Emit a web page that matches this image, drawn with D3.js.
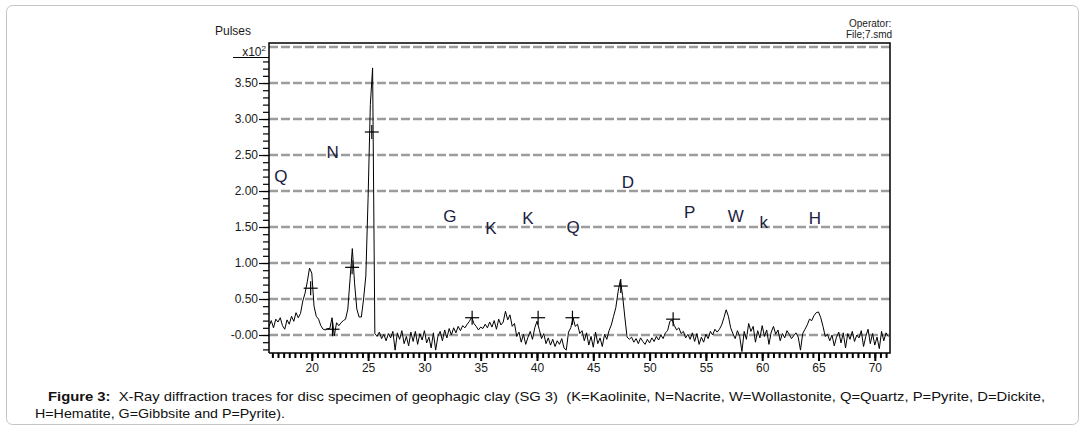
<!DOCTYPE html>
<html>
<head>
<meta charset="utf-8">
<script src="https://cdnjs.cloudflare.com/ajax/libs/d3/7.8.5/d3.min.js"></script>
<style>
	body { margin: 0; background: #fff; }
	svg text { font-family: "Liberation Sans", Arial, sans-serif; }
</style>
</head>
<body>
<div id="chart"></div>
<script>
// XRD scan, stored like the .smd file: start angle, step, pulses (x10^2)
var scanStart = 16.2;
var scanStep = 0.2;
var pulses = [
	0.12, 0.20, 0.10, 0.22,
	0.18, 0.24, 0.13, 0.08, 0.21,
	0.15, 0.26, 0.19, 0.31, 0.24,
	0.30, 0.47, 0.58, 0.74, 0.93,
	0.86, 0.40, 0.26, 0.22, 0.13,
	0.08, 0.07, 0.09, 0.09, 0.24,
	-0.01, 0.17, 0.13, 0.17, 0.20,
	0.22, 0.36, 0.78, 1.20, 0.72,
	0.36, 0.25, 0.25, 0.50, 0.82,
	1.90, 3.20, 3.71, 0.02, -0.02,
	0.04, -0.05, 0.01, -0.08, 0.02,
	-0.04, 0.05, -0.21, 0.03, -0.06,
	0.06, -0.12, -0.02, -0.15, 0.04,
	-0.09, 0.05, -0.13, 0.02, -0.07,
	0.06, -0.11, -0.03, -0.18, 0.03,
	-0.21, -0.02, 0.05, -0.08, 0.07,
	-0.04, 0.09, 0.00, 0.10, 0.03,
	0.12, 0.06, 0.13, 0.10, 0.15,
	0.19, 0.25, 0.16, 0.12, 0.07,
	0.11, 0.09, 0.15, 0.10, 0.18,
	0.11, 0.20, 0.08, 0.22, 0.14,
	0.18, 0.33, 0.21, 0.28, 0.12,
	0.16, -0.02, 0.04, -0.10, 0.01,
	-0.13, -0.03, 0.05, -0.06, 0.10,
	0.19, 0.08, -0.05, 0.02, -0.12,
	-0.04, -0.14, -0.06, -0.16, -0.08,
	-0.13, -0.05, -0.18, -0.21, 0.04,
	0.10, 0.24, 0.12, 0.15, 0.02,
	0.06, -0.08, 0.03, -0.14, -0.02,
	-0.17, 0.04, -0.12, -0.04, -0.16,
	0.01, -0.06, 0.06, 0.14, 0.26,
	0.38, 0.60, 0.76, 0.55, 0.25,
	-0.03, -0.06, -0.03, -0.10, -0.05,
	-0.12, -0.04, -0.09, -0.13, -0.06,
	-0.11, -0.04, -0.09, -0.02, -0.07,
	0.00, -0.05, 0.03, 0.06, 0.19,
	0.21, 0.13, 0.07, 0.10, 0.02,
	0.05, -0.04, 0.01, -0.06, 0.03,
	-0.09, 0.02, -0.13, -0.03, -0.10,
	0.01, -0.05, 0.05, 0.00, 0.08,
	0.04, 0.08, 0.14, 0.24, 0.35,
	0.26, 0.10, 0.02, -0.05, 0.06,
	-0.02, -0.23, 0.05, -0.06, 0.16,
	0.05, 0.12, -0.10, 0.06, -0.04,
	0.13, -0.02, 0.07, -0.13, 0.04,
	0.12, 0.01, 0.07, -0.08, 0.02,
	-0.04, 0.06, 0.01, -0.05, -0.01,
	0.03, -0.03, -0.21, 0.02, 0.08,
	0.14, 0.22, 0.20, 0.27, 0.31,
	0.32, 0.24, 0.12, -0.02, 0.01,
	-0.08, 0.00, -0.15, -0.03, 0.04,
	-0.11, 0.03, -0.18, 0.02, -0.06,
	0.05, -0.09, 0.00, -0.04, 0.06,
	-0.16, -0.02, 0.08, -0.12, 0.02,
	-0.14, -0.03, -0.19, 0.05, -0.08,
	0.03, -0.02
];

// peak search crosses
var markAngles = [19.9, 21.84, 23.58, 25.33, 34.24, 40.1, 43.15, 47.44, 52.09];
var markLevels = [0.65, 0.08, 0.94, 2.82, 0.24, 0.24, 0.24, 0.68, 0.22];

// phase letters
var phaseNames = ["Q", "N", "G", "K", "K", "Q", "D", "P", "W", "k", "H"];
var phaseAngles = [17.25, 21.86, 32.26, 35.9, 39.2, 43.2, 48.07, 53.57, 57.66, 60.14, 64.67];
var phaseLevels = [2.21, 2.54, 1.65, 1.49, 1.63, 1.5, 2.13, 1.71, 1.65, 1.57, 1.63];

var xTicks = [20, 25, 30, 35, 40, 45, 50, 55, 60, 65, 70];
var yTicks = [0, 0.5, 1, 1.5, 2, 2.5, 3, 3.5];
var yTickLabels = ["-0.00", "0.50", "1.00", "1.50", "2.00", "2.50", "3.00", "3.50"];
var gridLevels = [0, 0.5, 1, 1.5, 2, 2.5, 3, 3.5, 4];

var W = 1085, H = 443;
var box = { left: 269, right: 890, top: 43, bottom: 353 };

var svg = d3.select("#chart").append("svg")
	.attr("width", W)
	.attr("height", H);

// outer figure frame
svg.append("rect")
	.attr("x", 6.5).attr("y", 5.5)
	.attr("width", 1072).attr("height", 419)
	.attr("rx", 6)
	.attr("fill", "none")
	.attr("stroke", "#c4c4c4");

var x = d3.scaleLinear().domain([16.2, 71.35]).range([box.left, box.right]);
var y = d3.scaleLinear().domain([-0.25, 4.056]).range([box.bottom, box.top]);

// dashed grid
svg.append("g").selectAll("line")
	.data(gridLevels)
	.enter().append("line")
	.attr("x1", box.left).attr("x2", box.right)
	.attr("y1", function (d) { return y(d); })
	.attr("y2", function (d) { return y(d); })
	.attr("stroke", "#9c9c9c")
	.attr("stroke-width", 2.5)
	.attr("stroke-dasharray", "9,3");

// trace
var scan = pulses.map(function (v, i) { return [scanStart + i * scanStep, v]; });
svg.append("path")
	.datum(scan)
	.attr("d", d3.line().x(function (d) { return x(d[0]); }).y(function (d) { return y(d[1]); }))
	.attr("fill", "none")
	.attr("stroke", "#000")
	.attr("stroke-width", 1);

// crosses
var marks = svg.append("g").selectAll("g")
	.data(markAngles)
	.enter().append("g")
	.attr("transform", function (d, i) { return "translate(" + x(d) + "," + y(markLevels[i]) + ")"; });
marks.append("line").attr("x1", -7).attr("x2", 7).attr("stroke", "#000").attr("stroke-width", 1.2);
marks.append("line").attr("y1", -7).attr("y2", 7).attr("stroke", "#000").attr("stroke-width", 1.2);

// phase letters
svg.append("g").selectAll("text")
	.data(phaseNames)
	.enter().append("text")
	.attr("x", function (d, i) { return x(phaseAngles[i]); })
	.attr("y", function (d, i) { return y(phaseLevels[i]); })
	.attr("dy", "0.36em")
	.attr("text-anchor", "middle")
	.attr("font-size", 17)
	.attr("fill", "#1b2140")
	.text(function (d) { return d; });

// box
svg.append("path")
	.attr("d", "M" + box.left + "," + box.bottom + "V" + box.top + "H" + box.right + "V" + box.bottom + "H" + box.left)
	.attr("fill", "none")
	.attr("stroke", "#000")
	.attr("stroke-width", 1.5);

// x axis: minor every 0.5, major every 5
var xMinor = d3.range(16.5, 71.3, 0.5);
svg.append("g")
	.attr("transform", "translate(0," + box.bottom + ")")
	.call(d3.axisBottom(x).tickValues(xMinor).tickSize(5).tickFormat(""))
	.call(function (g) { g.select(".domain").remove(); })
	.selectAll("line").attr("stroke-width", 2);
var xAxis = svg.append("g")
	.attr("transform", "translate(0," + box.bottom + ")")
	.call(d3.axisBottom(x).tickValues(xTicks).tickSize(8).tickPadding(2))
	.call(function (g) { g.select(".domain").remove(); });
xAxis.selectAll("line").attr("stroke-width", 2);
xAxis.selectAll("text")
	.attr("font-size", 12)
	.attr("font-family", "'Liberation Sans', Arial, sans-serif")
	.attr("fill", "#1a1a1a");

// y axis: minor every 0.1 (stops under the unit label)
var yMinor = d3.range(-0.2, 3.85, 0.1);
svg.append("g")
	.attr("transform", "translate(" + box.left + ",0)")
	.call(d3.axisLeft(y).tickValues(yMinor).tickSize(6).tickFormat(""))
	.call(function (g) { g.select(".domain").remove(); })
	.selectAll("line").attr("stroke-width", 1.2);
var yAxis = svg.append("g")
	.attr("transform", "translate(" + box.left + ",0)")
	.call(d3.axisLeft(y).tickValues(yTicks).tickSize(10).tickPadding(1)
		.tickFormat(function (d, i) { return yTickLabels[i]; }))
	.call(function (g) { g.select(".domain").remove(); });
yAxis.selectAll("line").attr("stroke-width", 1.2);
yAxis.selectAll("text")
	.attr("font-size", 12)
	.attr("font-family", "'Liberation Sans', Arial, sans-serif")
	.attr("fill", "#1a1a1a");

// unit label
var unit = svg.append("text")
	.attr("x", 266).attr("y", 56)
	.attr("text-anchor", "end")
	.attr("font-size", 12)
	.attr("fill", "#1a1a1a");
unit.append("tspan").text("x10");
unit.append("tspan").attr("font-size", 8).attr("dy", -5).text("2");
svg.append("line")
	.attr("x1", 233).attr("x2", box.left)
	.attr("y1", 57.5).attr("y2", 57.5)
	.attr("stroke", "#000").attr("stroke-width", 1.2);

svg.append("text")
	.attr("x", 215).attr("y", 35)
	.attr("font-size", 12)
	.attr("fill", "#1a1a1a")
	.text("Pulses");

svg.append("text")
	.attr("x", 849).attr("y", 27)
	.attr("font-size", 10)
	.attr("fill", "#1a1a1a")
	.text("Operator:");
svg.append("text")
	.attr("x", 846).attr("y", 37.5)
	.attr("font-size", 10)
	.attr("fill", "#1a1a1a")
	.text("File;7.smd");

// caption
var cap1 = svg.append("text")
	.attr("x", 48).attr("y", 401)
	.attr("font-size", 13)
	.attr("fill", "#111")
	.attr("textLength", 997)
	.attr("lengthAdjust", "spacingAndGlyphs");
cap1.append("tspan").attr("font-weight", "bold").text("Figure 3:");
cap1.append("tspan").text("\u00a0 X-Ray diffraction traces for disc specimen of geophagic clay (SG 3) \u00a0(K=Kaolinite, N=Nacrite, W=Wollastonite, Q=Quartz, P=Pyrite, D=Dickite,");
svg.append("text")
	.attr("x", 35).attr("y", 418)
	.attr("font-size", 13)
	.attr("fill", "#111")
	.attr("textLength", 250)
	.attr("lengthAdjust", "spacingAndGlyphs")
	.text("H=Hematite, G=Gibbsite and P=Pyrite).");
</script>
</body>
</html>
